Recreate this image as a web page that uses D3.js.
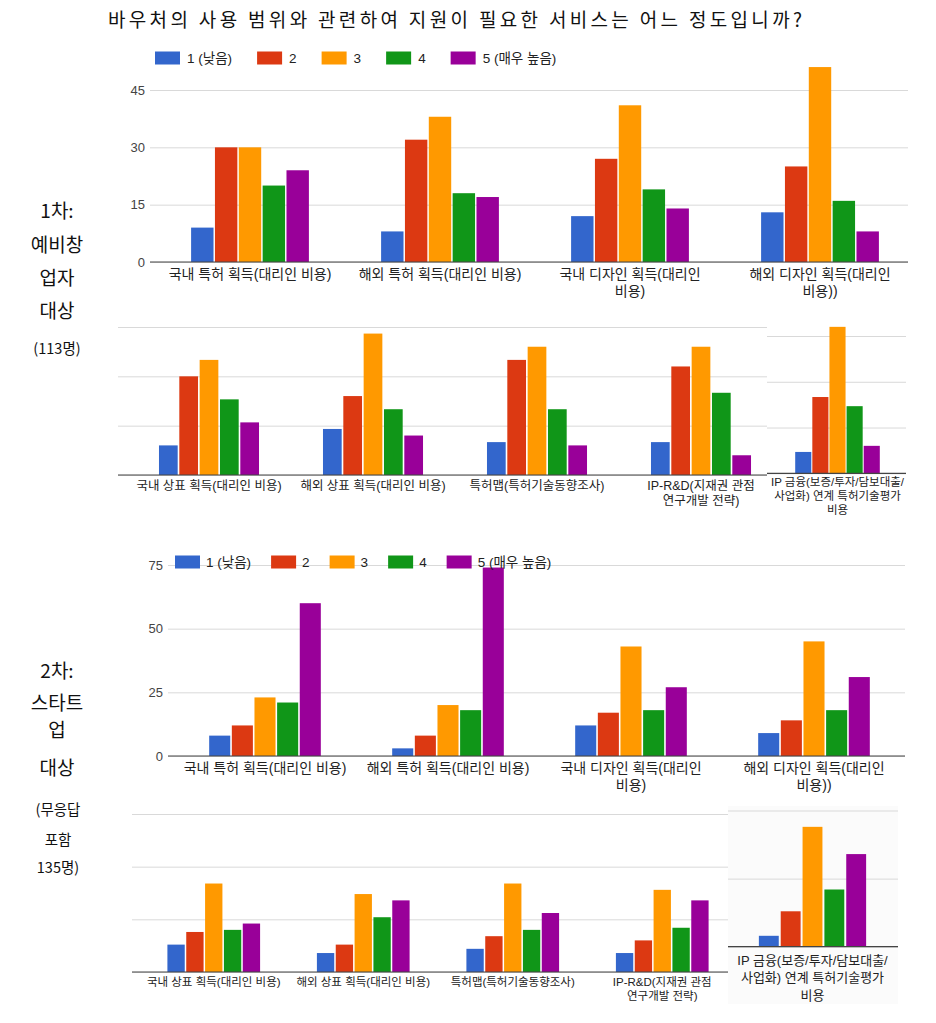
<!DOCTYPE html>
<html><head><meta charset="utf-8">
<script src="https://cdn.jsdelivr.net/npm/d3@7"></script>
<style>
body{margin:0;background:#fff}
svg{display:block}
text{font-family:"Liberation Sans","Noto Sans CJK KR",Arial,sans-serif}
</style>
</head><body>
<svg id="c" width="936" height="1023"></svg>
<script>
// ---------- DATA ----------
const title = "바우처의 사용 범위와 관련하여 지원이 필요한 서비스는 어느 정도입니까?";
const seriesNames = ["1 (낮음)", "2", "3", "4", "5 (매우 높음)"];
const catsTop = ["국내 특허 획득(대리인 비용)", "해외 특허 획득(대리인 비용)", "국내 디자인 획득(대리인 비용)", "해외 디자인 획득(대리인 비용))"];
const catsTopLines = [["국내 특허 획득(대리인 비용)"], ["해외 특허 획득(대리인 비용)"], ["국내 디자인 획득(대리인", "비용)"], ["해외 디자인 획득(대리인", "비용))"]];
const catsBottom = ["국내 상표 획득(대리인 비용)", "해외 상표 획득(대리인 비용)", "특허맵(특허기술동향조사)", "IP-R&D(지재권 관점 연구개발 전략)"];
const catsBottomLines = [["국내 상표 획득(대리인 비용)"], ["해외 상표 획득(대리인 비용)"], ["특허맵(특허기술동향조사)"], ["IP-R&D(지재권 관점", "연구개발 전략)"]];
const catIP = ["IP 금융(보증/투자/담보대출/사업화) 연계 특허기술평가 비용"];
const catIPLines = [["IP 금융(보증/투자/담보대출/", "사업화) 연계 특허기술평가", "비용"]];

// 1차: 예비창업자 대상 (113명)
const round1Top = [[9, 30, 30, 20, 24], [8, 32, 38, 18, 17], [12, 27, 41, 19, 14], [13, 25, 51, 16, 8]];
const round1Bottom = [[9, 30, 35, 23, 16], [14, 24, 43, 20, 12], [10, 35, 39, 20, 9], [10, 33, 39, 25, 6]];
const round1IP = [[7, 25, 48, 22, 9]];
// 2차: 스타트업 대상 (무응답 포함 135명)
const round2Top = [[8, 12, 23, 21, 60], [3, 8, 20, 18, 74], [12, 17, 43, 18, 27], [9, 14, 45, 18, 31]];
const round2Bottom = [[13, 19, 42, 20, 23], [9, 13, 37, 26, 34], [11, 17, 42, 20, 28], [9, 15, 39, 21, 34]];
const round2IP = [[4, 13, 44, 21, 34]];

const ticks1 = [0, 15, 30, 45];
const ticks2 = [0, 25, 50, 75];
const ticks2IP = [0, 25, 50];

const side1 = ["1차:", "예비창", "업자", "대상"];
const side1Note = ["(113명)"];
const side2 = ["2차:", "스타트", "업", "대상"];
const side2Note = ["(무응답", "포함", "135명)"];

// ---------- STYLE ----------
const colors = ["#3366cc", "#dc3912", "#ff9900", "#109618", "#990099"];
const svg = d3.select("#c");

svg.append("text").attr("x", 455).attr("y", 27).attr("text-anchor", "middle")
  .attr("font-size", 19).attr("fill", "#111")
  .style("font-family", "'Noto Sans CJK KR',sans-serif")
  .attr("textLength", 694).attr("lengthAdjust", "spacing")
  .text(title);

// faint background of the cropped bottom-right box (2차)
svg.append("rect").attr("x", 728).attr("y", 806).attr("width", 170).attr("height", 198).attr("fill", "#fbfbfb");

let clipN = 0;
function panel(o) {
  const g = svg.append("g");
  const cid = "clip" + (clipN++);
  svg.append("clipPath").attr("id", cid).append("rect")
    .attr("x", o.clip[0]).attr("y", 0).attr("width", o.clip[1] - o.clip[0]).attr("height", 1023);
  const x0 = d3.scaleBand().domain(o.cats).range(o.xr);
  const gw = x0.bandwidth() * o.gw;
  const x1 = d3.scaleBand().domain(seriesNames).range([0, gw]).paddingInner(o.gap);
  const y = d3.scaleLinear().domain(o.yd).range(o.yr);

  const ax = d3.axisLeft(y).tickValues(o.ticks).tickSize(-(o.gx[1] - o.gx[0]))
    .tickPadding(5).tickFormat(o.showTicks ? d3.format("d") : () => "");
  const ag = g.append("g").attr("transform", `translate(${o.gx[0]},0)`).call(ax);
  ag.select(".domain").remove();
  ag.selectAll(".tick line").attr("stroke", "#d9d9d9");
  ag.selectAll(".tick text").attr("fill", "#444").attr("font-size", o.tickFs || 13)
    .style("font-family", "'Liberation Sans Narrow','Liberation Sans',sans-serif");

  const bars = g.append("g").attr("clip-path", `url(#${cid})`);
  const grp = bars.selectAll("g.grp").data(o.values).join("g")
    .attr("transform", (d, i) => `translate(${x0(o.cats[i]) + (x0.bandwidth() - gw) / 2},0)`);
  grp.selectAll("rect").data(d => d).join("rect")
    .attr("x", (d, j) => x1(seriesNames[j])).attr("width", x1.bandwidth())
    .attr("y", d => y(d)).attr("height", d => y(0) - y(d))
    .attr("fill", (d, j) => colors[j]);

  g.append("line").attr("x1", o.gx[0]).attr("x2", o.gx[1]).attr("y1", y(0)).attr("y2", y(0))
    .attr("stroke", "#444").attr("stroke-width", 1.2);

  const lab = g.append("g").attr("clip-path", `url(#${cid})`);
  o.lines.forEach((ls, i) => {
    const cx = x0(o.cats[i]) + x0.bandwidth() / 2;
    const t = lab.append("text").attr("text-anchor", "middle")
      .attr("font-size", o.labFs).attr("fill", "#222")
      .attr("x", cx).attr("y", y(0) + o.labDy);
    ls.forEach((l, k) => t.append("tspan").attr("x", cx).attr("dy", k === 0 ? 0 : o.labLh).text(l));
  });
  return g;
}

function legend(x, yc, gapAfter, swGap) {
  let cx = x;
  seriesNames.forEach((s, j) => {
    svg.append("rect").attr("x", cx).attr("y", yc - 6.5).attr("width", 25).attr("height", 13).attr("fill", colors[j]);
    const t = svg.append("text").attr("x", cx + 25 + swGap).attr("y", yc + 5).attr("font-size", 13.5).attr("fill", "#222").text(s);
    cx = cx + 25 + swGap + t.node().getComputedTextLength() + gapAfter;
  });
}

// Panel 1: 1차 top
panel({cats: catsTop, lines: catsTopLines, values: round1Top, xr: [155, 915], gw: 0.62, gap: 0.06,
  yd: [0, 45], yr: [262, 90], ticks: ticks1, showTicks: true, gx: [150, 908], clip: [140, 915],
  labFs: 14, labDy: 17, labLh: 17});
legend(155, 58, 25, 7);

// Panel 2: 1차 bottom
panel({cats: catsBottom, lines: catsBottomLines, values: round1Bottom, xr: [127, 783], gw: 0.61, gap: 0.08,
  yd: [0, 45], yr: [475, 327], ticks: ticks1, showTicks: false, gx: [118, 767], clip: [110, 767],
  labFs: 12.5, labDy: 15, labLh: 15});
// Panel 2 IP
panel({cats: catIP, lines: catIPLines, values: round1IP, xr: [767, 908], gw: 0.6, gap: 0.06,
  yd: [0, 45], yr: [473.3, 336], ticks: ticks1, showTicks: false, gx: [767, 906], clip: [767, 920],
  labFs: 11.5, labDy: 13, labLh: 14});

// Panel 3: 2차 top
panel({cats: catsTop, lines: catsTopLines, values: round2Top, xr: [173.5, 905.5], gw: 0.61, gap: 0.07,
  yd: [0, 75], yr: [756, 565], ticks: ticks2, showTicks: true, gx: [168, 905], clip: [150, 915],
  labFs: 14, labDy: 17, labLh: 17});
legend(175, 562, 20, 6);

// Panel 4: 2차 bottom
panel({cats: catsBottom, lines: catsBottomLines, values: round2Bottom, xr: [139, 737], gw: 0.62, gap: 0.08,
  yd: [0, 75], yr: [972, 814], ticks: ticks2, showTicks: false, gx: [132, 728], clip: [120, 728],
  labFs: 11.5, labDy: 14, labLh: 14});
// Panel 4 IP
panel({cats: catIP, lines: catIPLines, values: round2IP, xr: [730, 895], gw: 0.65, gap: 0.09,
  yd: [0, 50], yr: [946.7, 810.5], ticks: ticks2IP, showTicks: false, gx: [728, 898], clip: [728, 920],
  labFs: 13, labDy: 18, labLh: 17.5});

function side(lines, ys, fs, x) {
  lines.forEach((l, i) => svg.append("text").attr("x", x).attr("y", ys[i]).attr("text-anchor", "middle")
    .attr("font-size", fs).attr("fill", "#111").style("font-family", "'Noto Sans CJK KR',sans-serif").text(l));
}
side(side1, [218, 252, 285, 318], 19, 57);
side(side1Note, [354], 14.5, 57);
side(side2, [678, 710, 737, 775], 19, 57);
side(side2Note, [815, 845, 873], 14.5, 58);
</script>
</body></html>
